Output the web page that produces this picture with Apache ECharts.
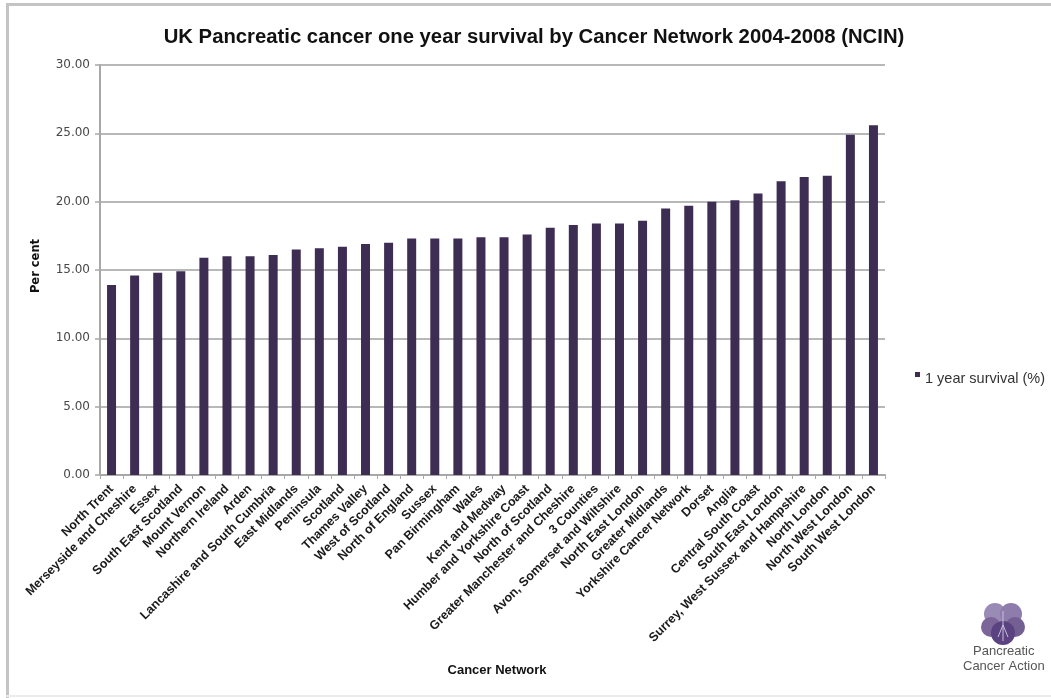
<!DOCTYPE html>
<html>
<head>
<meta charset="utf-8">
<title>UK Pancreatic cancer one year survival by Cancer Network 2004-2008 (NCIN)</title>
<script src="https://cdn.jsdelivr.net/npm/echarts@6/dist/echarts.min.js"></script>
<style>
  html, body { margin: 0; padding: 0; background: #ffffff; }
  #chart { width: 1051px; height: 698px; }
</style>
</head>
<body>
<div id="chart"></div>
<script>
// Cancer networks, ordered from lowest to highest survival
const networks = [
  'North Trent', 'Merseyside and Cheshire', 'Essex', 'South East Scotland',
  'Mount Vernon', 'Northern Ireland', 'Arden', 'Lancashire and South Cumbria',
  'East Midlands', 'Peninsula', 'Scotland', 'Thames Valley', 'West of Scotland',
  'North of England', 'Sussex', 'Pan Birmingham', 'Wales', 'Kent and Medway',
  'Humber and Yorkshire Coast', 'North of Scotland', 'Greater Manchester and Cheshire',
  '3 Counties', 'Avon, Somerset and Wiltshire', 'North East London', 'Greater Midlands',
  'Yorkshire Cancer Network', 'Dorset', 'Anglia', 'Central South Coast',
  'South East London', 'Surrey, West Sussex and Hampshire', 'North London',
  'North West London', 'South West London'
];

// One year survival (%)
const survival = [
  13.9, 14.6, 14.8, 14.9,
  15.9, 16.0, 16.0, 16.1,
  16.5, 16.6, 16.7, 16.9, 17.0,
  17.3, 17.3, 17.3, 17.4, 17.4,
  17.6, 18.1, 18.3,
  18.4, 18.4, 18.6, 19.5,
  19.7, 20.0, 20.1, 20.6,
  21.5, 21.8, 21.9,
  24.9, 25.6
];

const seriesName = '1 year survival (%)';
const yTicks = { min: 0, max: 30, step: 5 };

const chart = echarts.init(document.getElementById('chart'), null, { renderer: 'canvas' });

const option = {
  backgroundColor: '#ffffff',
  animation: false,
  title: {
    text: 'UK Pancreatic cancer one year survival by Cancer Network 2004-2008 (NCIN)',
    left: 529,
    top: 22,
    textAlign: 'center',
    textStyle: {
      fontFamily: 'Liberation Sans, Arial, sans-serif',
      fontSize: 20.3,
      fontWeight: 'bold',
      color: '#111111'
    }
  },
  legend: {
    orient: 'vertical',
    left: 910,
    top: 366,
    itemWidth: 5,
    itemHeight: 5,
    itemGap: 4,
    icon: 'rect',
    data: [seriesName],
    formatter: '{t|{name}}',
    textStyle: {
      fontFamily: 'Liberation Sans, Arial, sans-serif',
      fontSize: 14.5,
      color: '#333333',
      rich: {
        t: {
          fontFamily: 'Liberation Sans, Arial, sans-serif',
          fontSize: 14.5,
          color: '#333333',
          padding: [8, 0, 0, 0]
        }
      }
    }
  },
  grid: {
    left: 100,
    right: 166,
    top: 65,
    bottom: 223,
    containLabel: false
  },
  xAxis: {
    type: 'category',
    data: networks,
    name: 'Cancer Network',
    nameLocation: 'middle',
    nameGap: 189,
    nameTextStyle: {
      fontFamily: 'Liberation Sans, Arial, sans-serif',
      fontSize: 13,
      fontWeight: 'bold',
      color: '#111111',
      padding: [0, 0, 0, 9]
    },
    axisLine: { show: true, lineStyle: { color: '#a8a8a8', width: 2 } },
    axisTick: { show: true, alignWithLabel: false, length: 4, lineStyle: { color: '#a8a8a8', width: 1 } },
    axisLabel: {
      interval: 0,
      rotate: 45,
      margin: 12,
      fontFamily: 'Liberation Sans, Arial, sans-serif',
      fontSize: 12.5,
      fontWeight: 'bold',
      color: '#1a1a1a'
    },
    splitLine: { show: false }
  },
  yAxis: {
    type: 'value',
    min: yTicks.min,
    max: yTicks.max,
    interval: yTicks.step,
    name: 'Per cent',
    nameLocation: 'middle',
    nameGap: 58,
    nameRotate: 90,
    nameTextStyle: {
      fontFamily: 'DejaVu Sans, Verdana, sans-serif',
      fontSize: 11.5,
      fontWeight: 'bold',
      color: '#111111',
      padding: [0, 0, 0, 8]
    },
    axisLine: { show: true, lineStyle: { color: '#a8a8a8', width: 2 } },
    axisTick: { show: true, inside: false, length: 5, lineStyle: { color: '#a8a8a8', width: 1.5 } },
    axisLabel: {
      margin: 10,
      fontFamily: 'DejaVu Sans, Verdana, sans-serif',
      fontSize: 12,
      color: '#484848',
      formatter: (v) => v.toFixed(2)
    },
    splitLine: { show: true, lineStyle: { color: '#b8b8b8', width: 2 } }
  },
  series: [
    {
      name: seriesName,
      type: 'bar',
      data: survival,
      barWidth: 9,
      itemStyle: { color: '#3d2d53' }
    }
  ],
  graphic: [
    // frame lines along the top and left edge
    { type: 'rect', left: 6, top: 3, shape: { width: 1045, height: 3 }, style: { fill: '#c4c4c4' }, silent: true },
    { type: 'rect', left: 6, top: 3, shape: { width: 3, height: 695 }, style: { fill: '#c4c4c4' }, silent: true },
    { type: 'rect', left: 6, top: 695, shape: { width: 1045, height: 2 }, style: { fill: '#ececec' }, silent: true },
    // Pancreatic Cancer Action mark
    {
      type: 'group',
      left: 981,
      top: 603,
      silent: true,
      children: [
        { type: 'circle', shape: { cx: 13, cy: 11, r: 11 }, style: { fill: '#9a8ab6' } },
        { type: 'circle', shape: { cx: 29, cy: 11, r: 11 }, style: { fill: '#8e7cac' } },
        { type: 'circle', shape: { cx: 9, cy: 24, r: 10 }, style: { fill: '#7b6599' } },
        { type: 'circle', shape: { cx: 33, cy: 24, r: 10 }, style: { fill: '#745f93' } },
        { type: 'circle', shape: { cx: 21, cy: 30, r: 12 }, style: { fill: '#5b4280' } },
        { type: 'polyline', shape: { points: [[21, 8], [21, 22], [16, 34]] }, style: { stroke: '#c9bedb', lineWidth: 1, fill: null } },
        { type: 'polyline', shape: { points: [[21, 22], [26, 34]] }, style: { stroke: '#c9bedb', lineWidth: 1, fill: null } },
        { type: 'polyline', shape: { points: [[21, 22], [21, 38]] }, style: { stroke: '#c9bedb', lineWidth: 1, fill: null } }
      ]
    },
    {
      type: 'text',
      left: 973,
      top: 645,
      silent: true,
      style: {
        text: 'Pancreatic',
        font: '13px "Liberation Sans", Arial, sans-serif',
        fill: '#555555'
      }
    },
    {
      type: 'text',
      left: 963,
      top: 660,
      silent: true,
      style: {
        text: 'Cancer Action',
        font: '13px "Liberation Sans", Arial, sans-serif',
        fill: '#555555'
      }
    }
  ]
};

chart.setOption(option);
</script>
</body>
</html>
